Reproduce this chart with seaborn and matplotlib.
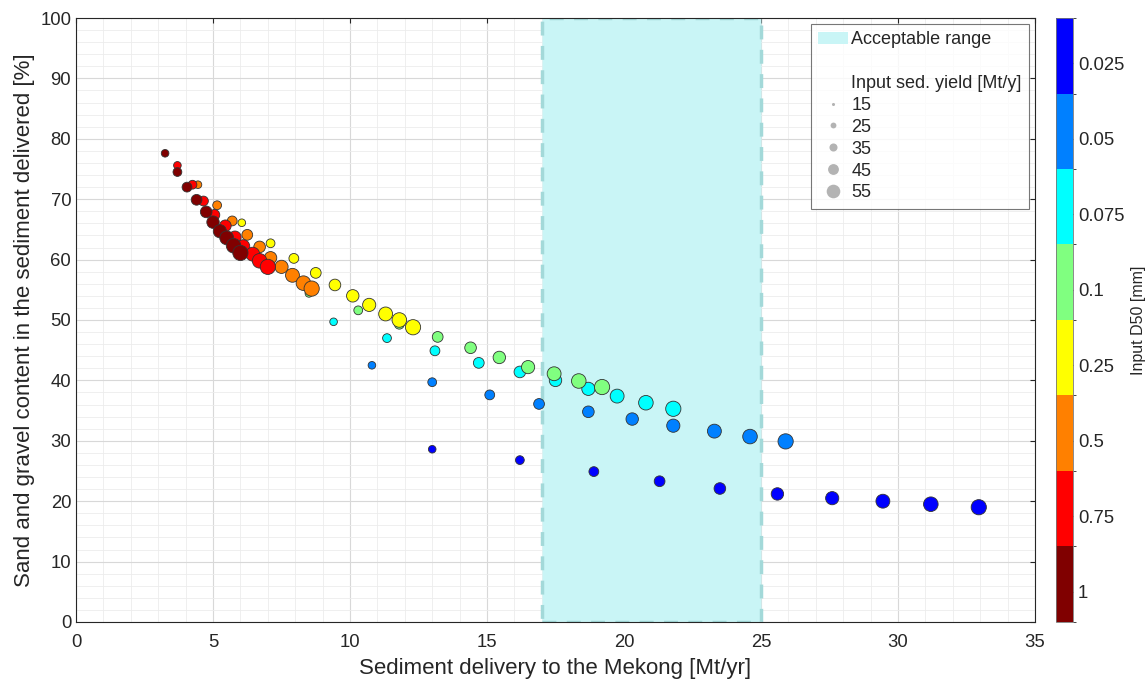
import matplotlib
matplotlib.use("Agg")
import matplotlib.pyplot as plt
from matplotlib.colors import ListedColormap, BoundaryNorm
from matplotlib.patches import Rectangle, Patch
from matplotlib.lines import Line2D
from matplotlib.ticker import MultipleLocator
import seaborn as sns
import numpy as np
import pandas as pd

# D50 classes (mm) and their colours, finest first
d50_classes = ['0.025', '0.05', '0.075', '0.1', '0.25', '0.5', '0.75', '1']
d50_colors = ['#0000ff', '#0080ff', '#00ffff', '#80ff80', '#ffff00', '#ff8000', '#ff0000', '#800000']

# input sediment yield [Mt/y], same for every class
yields = [15, 20, 25, 30, 35, 40, 45, 50, 55, 60]

# sediment delivery [Mt/yr] per class
delivery = {
    '0.025': [13.0, 16.2, 18.9, 21.3, 23.5, 25.6, 27.6, 29.45, 31.2, 32.95],
    '0.05':  [10.8, 13.0, 15.1, 16.9, 18.7, 20.3, 21.8, 23.3, 24.6, 25.9],
    '0.075': [9.4, 11.35, 13.1, 14.7, 16.2, 17.5, 18.7, 19.75, 20.8, 21.8],
    '0.1':   [8.5, 10.3, 11.8, 13.2, 14.4, 15.45, 16.5, 17.45, 18.35, 19.2],
    '0.25':  [6.05, 7.1, 7.95, 8.75, 9.45, 10.1, 10.7, 11.3, 11.8, 12.3],
    '0.5':   [4.45, 5.15, 5.7, 6.25, 6.7, 7.1, 7.5, 7.9, 8.3, 8.6],
    '0.75':  [3.7, 4.25, 4.65, 5.05, 5.45, 5.8, 6.1, 6.45, 6.7, 7.0],
    '1':     [3.25, 3.7, 4.05, 4.4, 4.75, 5.0, 5.25, 5.5, 5.75, 6.0],
}

# sand and gravel content [%] per class
sand = {
    '0.025': [28.6, 26.8, 24.9, 23.3, 22.1, 21.2, 20.5, 20.0, 19.5, 19.0],
    '0.05':  [42.5, 39.7, 37.6, 36.1, 34.8, 33.6, 32.5, 31.6, 30.7, 29.9],
    '0.075': [49.7, 47.0, 44.9, 42.9, 41.4, 40.0, 38.6, 37.4, 36.3, 35.3],
    '0.1':   [54.4, 51.6, 49.3, 47.2, 45.4, 43.8, 42.2, 41.1, 39.9, 38.9],
    '0.25':  [66.1, 62.7, 60.2, 57.8, 55.8, 54.0, 52.5, 51.0, 50.0, 48.8],
    '0.5':   [72.4, 69.0, 66.4, 64.1, 62.1, 60.3, 58.8, 57.4, 56.1, 55.2],
    '0.75':  [75.6, 72.4, 69.7, 67.4, 65.6, 63.7, 62.2, 60.9, 59.8, 58.8],
    '1':     [77.6, 74.5, 72.0, 69.9, 67.9, 66.2, 64.7, 63.6, 62.3, 61.1],
}

range_lo, range_hi = 17, 25
legend_yields = [15, 25, 35, 45, 55]

rows = []
for c in d50_classes:
    for y, dx, sy in zip(yields, delivery[c], sand[c]):
        rows.append({'D50': c, 'yield': y, 'delivery': dx, 'sand': sy})
df = pd.DataFrame(rows)

sns.set_style('white')
plt.rcParams['font.family'] = ['Liberation Sans', 'DejaVu Sans']
text_col = '#262626'

fig = plt.figure(figsize=(11.47, 6.82), dpi=100)
ax = fig.add_axes([0.0663, 0.088, 0.836, 0.8856])
cax = fig.add_axes([0.9207, 0.088, 0.0148, 0.8856])

ax.set_xlim(0, 35)
ax.set_ylim(0, 100)
ax.xaxis.set_major_locator(MultipleLocator(5))
ax.xaxis.set_minor_locator(MultipleLocator(1))
ax.yaxis.set_major_locator(MultipleLocator(10))
ax.yaxis.set_minor_locator(MultipleLocator(2))
ax.grid(True, which='major', color='#d8d8d8', lw=0.8)
ax.grid(True, which='minor', color='#ececec', lw=0.6)
ax.set_axisbelow(True)

# acceptable range
ax.add_patch(Rectangle((range_lo, 0), range_hi - range_lo, 100, facecolor='#c9f5f6',
                       edgecolor='#a3d9d9', lw=2.5, ls=(0, (4, 3)), zorder=1.5))

palette = dict(zip(d50_classes, d50_colors))
sns.scatterplot(data=df, x='delivery', y='sand', hue='D50', size='yield',
                palette=palette, sizes=(30, 120), edgecolor='#333333', linewidth=0.6,
                legend=False, ax=ax, zorder=3)

ax.set_xlabel('Sediment delivery to the Mekong [Mt/yr]', fontsize=16, color=text_col,
              labelpad=5)
ax.set_ylabel('Sand and gravel content in the sediment delivered [%]', fontsize=16,
              color=text_col, labelpad=4)
ax.tick_params(which='both', direction='in', top=True, right=True, colors=text_col,
               labelsize=13.3)
ax.tick_params(axis='x', pad=9)
ax.tick_params(which='minor', length=0)
for s in ax.spines.values():
    s.set_color(text_col)
    s.set_linewidth(0.8)

# legend
handles = [Patch(facecolor='#c9f5f6', edgecolor='none'),
           Line2D([], [], ls='none'),
           Line2D([], [], ls='none')]
labels = ['Acceptable range', '', 'Input sed. yield [Mt/y]']
msizes = [2.2, 4.2, 5.8, 7.8, 9.8]
for y, ms in zip(legend_yields, msizes):
    handles.append(Line2D([], [], ls='none', marker='o', markersize=ms,
                          markerfacecolor='#b3b3b3', markeredgecolor='none'))
    labels.append(str(y))
leg = ax.legend(handles, labels, loc='upper right', bbox_to_anchor=(0.9937, 0.990),
                borderaxespad=0, fontsize=13, frameon=True, fancybox=False,
                edgecolor='#555555', handlelength=1.65, handletextpad=0.2,
                labelspacing=0.27, borderpad=0.4)
leg.get_frame().set_linewidth(0.8)

# colorbar
cmap = ListedColormap(d50_colors[::-1])
norm = BoundaryNorm(np.arange(len(d50_classes) + 1), cmap.N)
cb = fig.colorbar(plt.cm.ScalarMappable(norm=norm, cmap=cmap), cax=cax)
cb.set_ticks(np.arange(len(d50_classes)) + 0.4)
cb.set_ticklabels(d50_classes[::-1])
cb.ax.tick_params(labelsize=13.3, colors=text_col, direction='in', length=4)
cb.outline.set_edgecolor('#777777')
cb.outline.set_linewidth(0.6)
cb.set_label('Input D50 [mm]', fontsize=11.5, color=text_col, labelpad=5)

fig.savefig('out.png', dpi=100)
